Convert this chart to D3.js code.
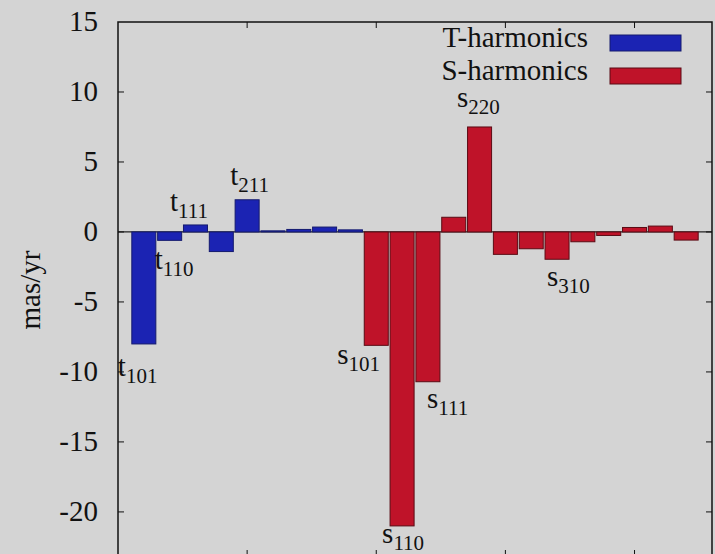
<!DOCTYPE html>
<html>
<head>
<meta charset="utf-8">
<script src="https://cdn.jsdelivr.net/npm/d3@7"></script>
<style>
  html, body { margin: 0; padding: 0; background: #d4d4d4; }
  svg { display: block; }
</style>
</head>
<body>
<script>
// T-harmonic (toroidal) and S-harmonic (spheroidal) coefficients, mas/yr
var tValues = [-8.0, -0.6, 0.5, -1.4, 2.3, 0.08, 0.18, 0.35, 0.15];
var sValues = [-8.1, -21.0, -10.7, 1.05, 7.5, -1.6, -1.2, -1.95, -0.7, -0.25, 0.32, 0.42, -0.58];
var yTicks = [15, 10, 5, 0, -5, -10, -15, -20];
var xTicks = [5, 10, 15, 20];
var seriesNames = ["T-harmonics", "S-harmonics"];
var seriesColors = ["#1b23b3", "#bf1329"];
var seriesStrokes = ["#141a6e", "#5a0b14"];

// labelled bars: letter, subscript, bar index (0-based across both series)
var labelLetters = ["t", "t", "t", "t", "s", "s", "s", "s", "s"];
var labelSubs = ["101", "110", "111", "211", "101", "110", "111", "220", "310"];
var labelBars = [0, 1, 2, 4, 9, 10, 11, 13, 16];
// label offsets from bar centre / bar end (layout only)
var labelDx = [-26, -15, -25.5, -17, -39, -20, -1, -22.5, -10];
var labelDy = [32, 29, -13.5, -15, 19, 17, 26, -20, 27];

var width = 715, height = 554;
var font = "'Liberation Serif', 'Times New Roman', Times, serif";
var svg = d3.select("body").append("svg")
  .attr("width", width).attr("height", height)
  .attr("font-family", font)
  .style("font-family", font);

var allBars = tValues.map(function(v) { return {v: v, s: 0}; })
  .concat(sValues.map(function(v) { return {v: v, s: 1}; }));

var x = d3.scaleLinear().domain([0, allBars.length + 1]).range([118, 712]);
var y = d3.scaleLinear().domain([-23.15, 15]).range([556, 22]);
var step = x(1) - x(0);
var bw = step * 0.93;

// zero line
svg.append("line")
  .attr("x1", x(0)).attr("x2", x(allBars.length + 1))
  .attr("y1", y(0)).attr("y2", y(0))
  .attr("stroke", "#222").attr("stroke-width", 1.2);

// bars
svg.selectAll("rect.bar").data(allBars).enter().append("rect")
  .attr("class", "bar")
  .attr("x", function(d, i) { return x(i + 1) - bw / 2; })
  .attr("width", bw)
  .attr("y", function(d) { return y(Math.max(0, d.v)); })
  .attr("height", function(d) { return Math.abs(y(d.v) - y(0)); })
  .attr("fill", function(d) { return seriesColors[d.s]; })
  .attr("stroke", function(d) { return seriesStrokes[d.s]; })
  .attr("stroke-width", 1);

// frame
var x0 = x(0), x1 = x(allBars.length + 1), y0 = y(15), y1 = y(-23.15);
svg.append("rect")
  .attr("x", x0).attr("y", y0).attr("width", x1 - x0).attr("height", y1 - y0)
  .attr("fill", "none").attr("stroke", "#111").attr("stroke-width", 1.5);

// y ticks (inward, both sides) and labels
yTicks.forEach(function(t) {
  if (t !== 15) {
    svg.append("line").attr("x1", x0).attr("x2", x0 + 6)
      .attr("y1", y(t)).attr("y2", y(t)).attr("stroke", "#111");
    svg.append("line").attr("x1", x1).attr("x2", x1 - 6)
      .attr("y1", y(t)).attr("y2", y(t)).attr("stroke", "#111");
  }
  svg.append("text")
    .attr("x", 98).attr("y", y(t) + 9)
    .attr("text-anchor", "end")
    .attr("font-size", 29)
    .attr("fill", "#111")
    .text(t < 0 ? "-" + Math.abs(t) : t);
});

// x ticks (inward, top and bottom)
xTicks.forEach(function(t) {
  svg.append("line").attr("x1", x(t)).attr("x2", x(t))
    .attr("y1", y0).attr("y2", y0 + 6).attr("stroke", "#111");
  svg.append("line").attr("x1", x(t)).attr("x2", x(t))
    .attr("y1", y1).attr("y2", y1 - 6).attr("stroke", "#111");
});

// y axis title
svg.append("text")
  .attr("transform", "translate(40,290) rotate(-90)")
  .attr("text-anchor", "middle")
  .attr("font-size", 29)
  .attr("fill", "#111")
  .text("mas/yr");

// bar labels with subscripts
labelBars.forEach(function(b, k) {
  var d = allBars[b];
  var t = svg.append("text")
    .attr("x", x(b + 1) + labelDx[k])
    .attr("y", y(d.v) + labelDy[k])
    .attr("font-size", 29)
    .attr("fill", "#111");
  t.append("tspan").text(labelLetters[k]);
  t.append("tspan").attr("font-size", 21).attr("dy", 7).text(labelSubs[k]);
});

// legend
seriesNames.forEach(function(name, i) {
  var base = 47 + i * 33;
  svg.append("text")
    .attr("x", 588).attr("y", base)
    .attr("text-anchor", "end")
    .attr("font-size", 29)
    .attr("fill", "#111")
    .text(name);
  svg.append("rect")
    .attr("x", 610).attr("y", base - 12).attr("width", 71).attr("height", 16)
    .attr("fill", seriesColors[i]).attr("stroke", seriesStrokes[i]);
});
</script>
</body>
</html>
